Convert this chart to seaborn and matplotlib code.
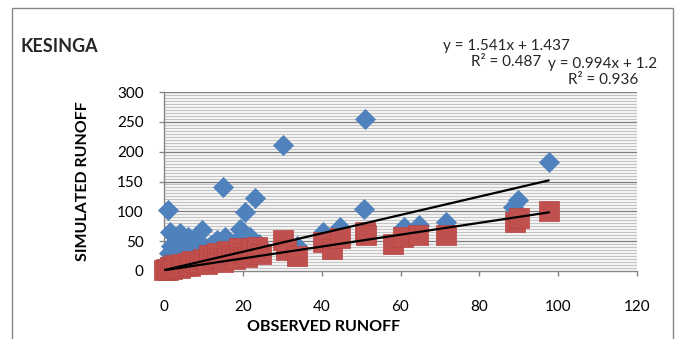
import matplotlib
matplotlib.use("Agg")
import matplotlib.pyplot as plt
import seaborn as sns
import pandas as pd
import numpy as np
from matplotlib.patches import Rectangle

# ---- data ----
blue_observed = [0.0, 0.5, 0.8, 1.0, 1.2, 1.5, 1.3, 1.8, 2.0, 2.5, 3.0, 3.5, 4.0, 4.5, 5.0,
                 5.5, 6.0, 6.5, 7.0, 7.5, 8.4, 9.0, 9.6, 10.5, 11.0, 12.0, 13.5, 14.0, 15.0,
                 15.5, 16.0, 17.0, 18.0, 19.3, 20.5, 21.0, 21.8, 23.0, 24.0, 30.2, 33.8,
                 40.4, 44.7, 50.8, 51.0, 60.8, 64.7, 71.5, 88.6, 89.8, 97.6]
blue_simulated = [2, 5, 12, 103, 20, 65, 30, 42, 8, 25, 50, 35, 64, 18, 45,
                  30, 57, 22, 40, 52, 47, 30, 69, 38, 20, 44, 52, 30, 140,
                  57, 40, 25, 48, 70, 99, 55, 57, 122, 45, 212, 42,
                  65, 74, 104, 255, 74, 77, 82, 107, 119, 183]

red_observed = [0.0, 0.5, 1.0, 1.5, 2.0, 2.5, 3.0, 4.0, 4.5, 5.0, 6.0, 6.5, 7.0, 8.0, 9.0,
                10.0, 11.0, 11.5, 12.5, 13.5, 14.0, 15.0, 16.0, 17.0, 18.0, 19.0, 20.0,
                21.0, 22.0, 23.5, 24.5, 30.2, 31.0, 33.8, 40.4, 42.6, 44.7, 51.0, 51.2,
                58.0, 60.7, 64.5, 71.6, 89.0, 90.0, 97.7]
red_simulated = [1, 3, 2, 6, 4, 10, 7, 5, 12, 9, 14, 8, 17, 12, 15,
                 20, 12, 26, 18, 30, 22, 15, 33, 25, 20, 38, 30,
                 24, 38, 40, 28, 52, 35, 25, 48, 37, 56, 66, 60,
                 46, 57, 60, 60, 82, 88, 100]

trend_slopes = [1.541, 0.994]
trend_intercepts = [1.437, 1.2]
trend_r2 = [0.487, 0.936]

x_ticks = [0, 20, 40, 60, 80, 100, 120]
y_ticks = [0, 50, 100, 150, 200, 250, 300]

title = "KESINGA"
x_label = "OBSERVED RUNOFF"
y_label = "SIMULATED RUNOFF"

BLUE = "#4F81BD"
RED = "#C0504D"
AXIS_GRAY = "#868686"

sns.set_theme(style="white")
plt.rcParams['font.family'] = ['Lato', 'DejaVu Sans']

W, H = 676, 339
fig = plt.figure(figsize=(W / 100, H / 100), dpi=100)
fig.patch.set_facecolor("white")

# plot area in pixels
L, R, T, B = 164, 637, 92, 271
ax = fig.add_axes([L / W, 1 - B / H, (R - L) / W, (B - T) / H])
ax.set_facecolor("white")

# gridlines: minor every 5, major every 50
for v in np.arange(5, 301, 5):
    major = (v % 50 == 0)
    ax.axhline(v, color="#7F7F7F" if major else "#C4C4C4", lw=1.0, zorder=0.5)

blue_df = pd.DataFrame({"obs": blue_observed, "sim": blue_simulated})
red_df = pd.DataFrame({"obs": red_observed, "sim": red_simulated})

sns.scatterplot(data=blue_df, x="obs", y="sim", ax=ax, marker="D", s=105,
                color=BLUE, edgecolor=BLUE, linewidth=0.5, zorder=3, clip_on=False)
sns.scatterplot(data=red_df, x="obs", y="sim", ax=ax, marker="s", s=200,
                color=RED, edgecolor="#B8433F", linewidth=0.5, zorder=3.2, clip_on=False)

# trendlines from the equations, spanning the observed range
for obs, m, c in [(blue_observed, trend_slopes[0], trend_intercepts[0]),
                  (red_observed, trend_slopes[1], trend_intercepts[1])]:
    xs = np.array([min(obs), max(obs)])
    sns.lineplot(x=xs, y=m * xs + c, ax=ax, color="black", lw=1.6, zorder=5)

ax.set_xlim(0, 120)
ax.set_ylim(0, 300)
ax.set_xticks(x_ticks)
ax.set_yticks(y_ticks)
ax.set_xticklabels([str(t) for t in x_ticks])
ax.set_yticklabels([str(t) for t in y_ticks])
ax.tick_params(axis="x", direction="out", length=3.6, width=1, color=AXIS_GRAY,
               pad=17, labelsize=11, labelcolor="black", bottom=True)
ax.tick_params(axis="y", direction="out", length=3.6, width=1, color=AXIS_GRAY,
               pad=11, labelsize=11, labelcolor="black", left=True)

for side in ["top", "right"]:
    ax.spines[side].set_visible(False)
for side in ["left", "bottom"]:
    ax.spines[side].set_color(AXIS_GRAY)
    ax.spines[side].set_linewidth(1.0)
    ax.spines[side].set_zorder(2)

ax.set_xlabel(x_label, fontsize=11.5, fontweight="bold", color="black")
ax.set_ylabel(y_label, fontsize=11.5, fontweight="bold", color="black")
ax.xaxis.set_label_coords((324 - L) / (R - L), -(327 - B) / (B - T), transform=ax.transAxes)
ax.yaxis.set_label_coords(-(L - 83) / (R - L), 0.5, transform=ax.transAxes)
ax.xaxis.label.set_va("center")
ax.yaxis.label.set_va("center")

# title
fig.text(20 / W, 1 - 46 / H, title, fontsize=13, fontweight="bold", ha="left", va="center")

# trendline labels
eq1 = f"y = {trend_slopes[0]}x + {trend_intercepts[0]}\nR² = {trend_r2[0]}"
eq2 = f"y = {trend_slopes[1]}x + {trend_intercepts[1]}\nR² = {trend_r2[1]}"
fig.text(506 / W, 1 - 54 / H, eq1, fontsize=11, ha="center", va="center",
         multialignment="center", linespacing=1.1)
fig.text(603 / W, 1 - 72 / H, eq2, fontsize=11, ha="center", va="center",
         multialignment="center", linespacing=1.1)

# chart outer border
fig.patches.append(Rectangle((12 / W, -0.05), (673 - 12) / W, 1.05 - 8 / H,
                             transform=fig.transFigure, fill=False,
                             edgecolor=AXIS_GRAY, lw=1.0))

fig.savefig("out.png", dpi=100, facecolor="white")
